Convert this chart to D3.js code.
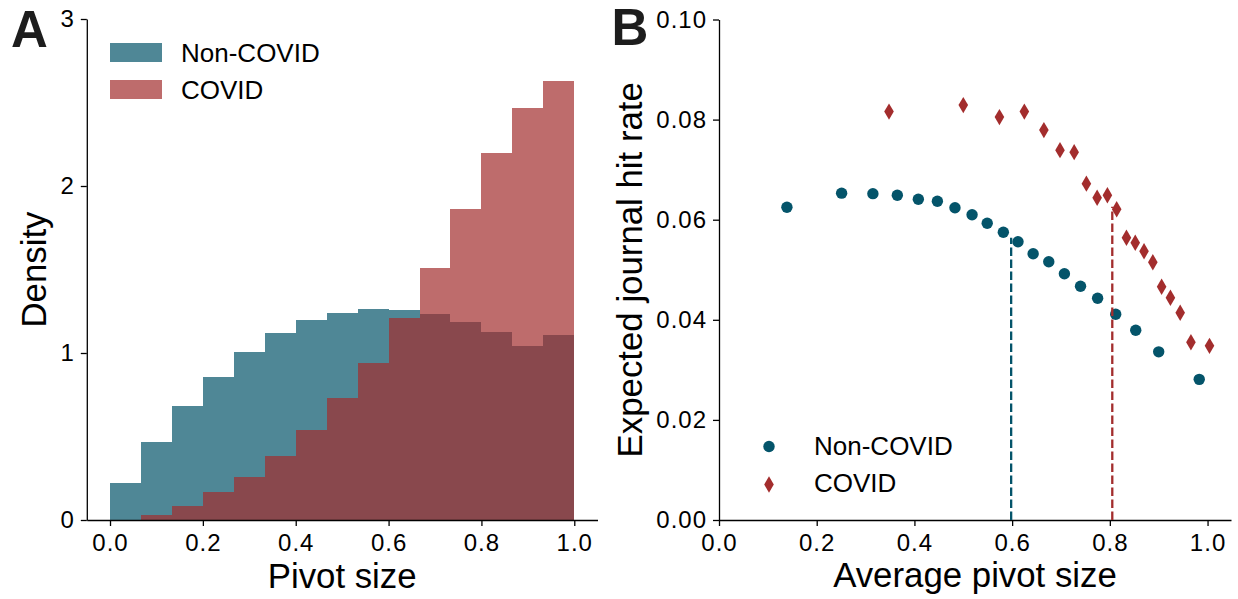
<!DOCTYPE html>
<html><head><meta charset="utf-8">
<script src="https://cdn.jsdelivr.net/npm/d3@7"></script>
<style>
body{margin:0;background:#fff}
svg{display:block}
text{font-family:"Liberation Sans",Arial,Helvetica,sans-serif;fill:#000}
</style>
</head><body>
<svg id="chart" width="1238" height="599"></svg>
<script>
// ---------- Data ----------
const seriesNames = ["Non-COVID", "COVID"];
const binEdges = [0, 0.0667, 0.1333, 0.2, 0.2667, 0.3333, 0.4, 0.4667, 0.5333, 0.6, 0.6667, 0.7333, 0.8, 0.8667, 0.9333, 1.0];
const nonCovidDensity = [0.224, 0.467, 0.683, 0.856, 1.006, 1.120, 1.198, 1.240, 1.263, 1.257, 1.234, 1.186, 1.126, 1.042, 1.108];
const covidDensity = [0.0, 0.028, 0.084, 0.170, 0.260, 0.385, 0.539, 0.731, 0.940, 1.210, 1.509, 1.862, 2.198, 2.467, 2.629];
const densityTicks = [0, 1, 2, 3];
const pivotTicks = [0, 0.2, 0.4, 0.6, 0.8, 1.0];
const hitTicks = [0, 0.02, 0.04, 0.06, 0.08, 0.10];

const nonCovidPivot = [0.139, 0.251, 0.315, 0.365, 0.408, 0.447, 0.483, 0.518, 0.549, 0.582, 0.612, 0.643, 0.675, 0.707, 0.740, 0.775, 0.812, 0.853, 0.900, 0.983];
const nonCovidHit = [0.0625, 0.0653, 0.0652, 0.0649, 0.0641, 0.0637, 0.0624, 0.0610, 0.0593, 0.0575, 0.0556, 0.0532, 0.0516, 0.0492, 0.0467, 0.0443, 0.0411, 0.0379, 0.0336, 0.0281];
const covidPivot = [0.348, 0.500, 0.574, 0.625, 0.665, 0.698, 0.727, 0.752, 0.774, 0.795, 0.814, 0.834, 0.852, 0.870, 0.888, 0.906, 0.924, 0.944, 0.966, 1.004];
const covidHit = [0.0816, 0.0829, 0.0805, 0.0816, 0.0779, 0.0739, 0.0735, 0.0672, 0.0644, 0.0649, 0.0621, 0.0564, 0.0554, 0.0537, 0.0515, 0.0466, 0.0444, 0.0414, 0.0355, 0.0348];
const meanPivot = [0.598, 0.805];
const meanHit = [0.0564, 0.0626];
const colors = ["#04546A", "#A32D2D"];

// ---------- Setup ----------
const svg = d3.select("#chart");
const tickFont = "24px";
const titleFont = "34.8px";
const legendFont = "26px";

function styleAxis(g) {
  g.selectAll("path.domain").attr("stroke", "#000").attr("stroke-width", 1.3);
  g.selectAll(".tick line").attr("stroke", "#000").attr("stroke-width", 1.3);
  g.selectAll(".tick text").style("font-size", tickFont).style("letter-spacing", "1px")
    .attr("font-family", null).attr("fill", "#000");
}

// ---------- Panel A ----------
const xA = d3.scaleLinear().domain([-0.05, 1.05]).range([86.8, 597.5]);
const yA = d3.scaleLinear().domain([0, 3]).range([520, 19]);
const gA = svg.append("g");

const binsNon = nonCovidDensity.map((v, i) => ({x0: binEdges[i], x1: binEdges[i + 1], v}));
const binsCov = covidDensity.map((v, i) => ({x0: binEdges[i], x1: binEdges[i + 1], v}));

gA.append("g").selectAll("rect").data(binsNon).join("rect")
  .attr("x", d => xA(d.x0)).attr("width", d => xA(d.x1) - xA(d.x0))
  .attr("y", d => yA(d.v)).attr("height", d => yA(0) - yA(d.v))
  .attr("fill", colors[0]).attr("fill-opacity", 0.7).attr("shape-rendering", "crispEdges");
gA.append("g").selectAll("rect").data(binsCov).join("rect")
  .attr("x", d => xA(d.x0)).attr("width", d => xA(d.x1) - xA(d.x0))
  .attr("y", d => yA(d.v)).attr("height", d => yA(0) - yA(d.v))
  .attr("fill", colors[1]).attr("fill-opacity", 0.7).attr("shape-rendering", "crispEdges");

gA.append("g").attr("transform", `translate(0,${yA(0)})`)
  .call(d3.axisBottom(xA).tickValues(pivotTicks).tickFormat(d3.format(".1f")).tickSize(6).tickSizeOuter(0).tickPadding(8))
  .call(styleAxis);
gA.append("g").attr("transform", `translate(${xA(-0.05)},0)`)
  .call(d3.axisLeft(yA).tickValues(densityTicks).tickFormat(d3.format("d")).tickSize(6).tickSizeOuter(0).tickPadding(6))
  .call(styleAxis);

gA.append("text").attr("x", (xA.range()[0] + xA.range()[1]) / 2).attr("y", 588)
  .attr("text-anchor", "middle").style("font-size", titleFont).text("Pivot size");
gA.append("text").attr("transform", `translate(46,${(yA.range()[0] + yA.range()[1]) / 2}) rotate(-90)`)
  .attr("text-anchor", "middle").style("font-size", titleFont).text("Density");

// legend A
const legA = gA.append("g");
seriesNames.forEach((name, i) => {
  legA.append("rect").attr("x", 110).attr("y", 43 + i * 37).attr("width", 52).attr("height", 19)
    .attr("fill", colors[i]).attr("fill-opacity", 0.7);
  legA.append("text").attr("x", 181).attr("y", 61.5 + i * 37.5).style("font-size", legendFont).text(name);
});

svg.append("text").attr("x", 11).attr("y", 46.7).style("font-size", "51px").style("font-weight", "bold")
  .style("fill", "#1d1d1d").text("A");

// ---------- Panel B ----------
const xB = d3.scaleLinear().domain([0, 1.048]).range([719, 1231]);
const yB = d3.scaleLinear().domain([0, 0.1]).range([520, 19.5]);
const gB = svg.append("g");

gB.append("g").attr("transform", `translate(0,${yB(0)})`)
  .call(d3.axisBottom(xB).tickValues(pivotTicks).tickFormat(d3.format(".1f")).tickSize(6).tickSizeOuter(0).tickPadding(8))
  .call(styleAxis);
gB.append("g").attr("transform", `translate(${xB(0)},0)`)
  .call(d3.axisLeft(yB).tickValues(hitTicks).tickFormat(d3.format(".2f")).tickSize(6).tickSizeOuter(0).tickPadding(6))
  .call(styleAxis);

// points
gB.append("g").selectAll("circle").data(nonCovidPivot.map((p, i) => [p, nonCovidHit[i]])).join("circle")
  .attr("cx", d => xB(d[0])).attr("cy", d => yB(d[1])).attr("r", 5.7).attr("fill", colors[0]);

function diamond(cx, cy) {
  const w = 4.8, h = 8.2;
  return `M${cx},${cy - h}L${cx + w},${cy}L${cx},${cy + h}L${cx - w},${cy}Z`;
}
gB.append("g").selectAll("path").data(covidPivot.map((p, i) => [p, covidHit[i]])).join("path")
  .attr("d", d => diamond(xB(d[0]), yB(d[1]))).attr("fill", colors[1]);

// mean lines
gB.append("g").selectAll("line").data(meanPivot.map((p, i) => [p, meanHit[i], i])).join("line")
  .attr("x1", d => xB(d[0])).attr("x2", d => xB(d[0]))
  .attr("y1", d => yB(0)).attr("y2", d => yB(d[1]))
  .attr("stroke", d => colors[d[2]]).attr("stroke-width", 2.3).attr("stroke-dasharray", "8.5,3.5");

gB.append("text").attr("x", (xB.range()[0] + xB.range()[1]) / 2).attr("y", 587)
  .attr("text-anchor", "middle").style("font-size", titleFont).text("Average pivot size");
gB.append("text").attr("transform", `translate(642,${(yB.range()[0] + yB.range()[1]) / 2}) rotate(-90)`)
  .attr("text-anchor", "middle").style("font-size", titleFont).text("Expected journal hit rate");

// legend B
const legB = gB.append("g");
legB.append("circle").attr("cx", 769).attr("cy", 446.5).attr("r", 5.7).attr("fill", colors[0]);
legB.append("path").attr("d", diamond(769, 484.5)).attr("fill", colors[1]);
seriesNames.forEach((name, i) => {
  legB.append("text").attr("x", 814).attr("y", 454.5 + i * 37).style("font-size", legendFont).text(name);
});

svg.append("text").attr("x", 611.5).attr("y", 45.3).style("font-size", "51px").style("font-weight", "bold")
  .style("fill", "#1d1d1d").text("B");
</script>
</body></html>
